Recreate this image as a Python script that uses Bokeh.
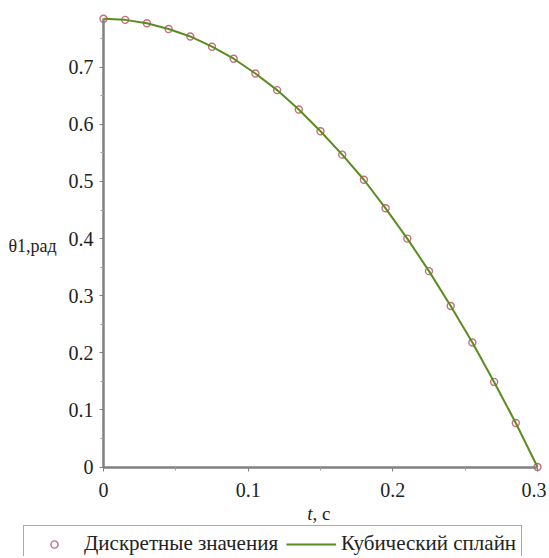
from bokeh.plotting import figure
from bokeh.models import Range1d, FixedTicker, Legend, LegendItem, Label, LinearAxis
from bokeh.embed import file_html
from bokeh.resources import INLINE

# data
t_values = [0.0, 0.015, 0.03, 0.045, 0.06, 0.075, 0.09, 0.105, 0.12, 0.135, 0.15,
            0.165, 0.18, 0.195, 0.21, 0.225, 0.24, 0.255, 0.27, 0.285, 0.3]
theta_values = [0.785, 0.783, 0.777, 0.767, 0.754, 0.736, 0.715, 0.689, 0.660, 0.626, 0.588,
                0.547, 0.503, 0.453, 0.400, 0.343, 0.282, 0.218, 0.149, 0.077, 0.0]
x_ticks = [0, 0.1, 0.2, 0.3]
x_tick_labels = ["0", "0.1", "0.2", "0.3"]
x_minor = [0.05, 0.15, 0.25]
y_ticks = [0, 0.1, 0.2, 0.3, 0.4, 0.5, 0.6, 0.7]
y_tick_labels = ["0", "0.1", "0.2", "0.3", "0.4", "0.5", "0.6", "0.7"]
y_minor = [0.05, 0.15, 0.25, 0.35, 0.45, 0.55, 0.65, 0.75]
x_min, x_max = 0.0, 0.3
y_min, y_max = 0.0, 0.7854

FONT = "Liberation Serif"
AX = "#808080"
TXT = "#222222"

W, H = 546, 556
LEFT, RIGHT, TOP, BOTTOM = 103, 9, 18, 89.5     # pixel space around the axes box
sx = (W - LEFT - RIGHT) / (x_max - x_min)
sy = (H - TOP - BOTTOM) / (y_max - y_min)

p = figure(width=W, height=H, output_backend="svg", toolbar_location=None,
           x_range=Range1d(x_min - LEFT / sx, x_max + RIGHT / sx),
           y_range=Range1d(y_min - BOTTOM / sy, y_max + TOP / sy),
           min_border=0, x_axis_location=None, y_axis_location=None)
p.outline_line_color = None
p.xgrid.visible = False
p.ygrid.visible = False
p.background_fill_color = "white"
p.border_fill_color = "white"

xax = LinearAxis(fixed_location=y_min, bounds=(x_min, x_max))
yax = LinearAxis(fixed_location=x_min, bounds=(y_min, y_max))
p.add_layout(xax, "below")
p.add_layout(yax, "left")

for ax, ticks, minor, labels in ((xax, x_ticks, x_minor, x_tick_labels),
                                 (yax, y_ticks, y_minor, y_tick_labels)):
    ax.ticker = FixedTicker(ticks=ticks, minor_ticks=minor)
    ax.major_label_overrides = {t: l for t, l in zip(ticks, labels)}
    ax.axis_line_color = AX
    ax.axis_line_width = 2.5
    ax.major_tick_line_color = AX
    ax.minor_tick_line_color = "#a0a0a0"
    ax.major_tick_out = 4
    ax.major_tick_in = 0
    ax.minor_tick_out = 3
    ax.minor_tick_in = 0
    ax.major_label_text_font = FONT
    ax.major_label_text_font_size = "20px"
    ax.major_label_text_color = TXT

xax.major_label_standoff = 12
yax.major_label_standoff = 6

r_pts = p.scatter(t_values, theta_values, marker="circle", size=7, fill_color=None,
                  line_color="#b8485e", line_alpha=0.8, line_width=1.4)
r_line = p.line(t_values, theta_values, line_color="#5b8c1f", line_width=2)

# axis titles
ylab = Label(x=x_min - (LEFT - 8) / sx, y=(y_min + y_max) / 2 - 3 / sy, text="θ1,рад",
             text_font=FONT, text_font_size="18px", text_align="left",
             text_baseline="middle", text_color=TXT)
xlab_t = Label(x=(x_min + x_max) / 2, y=y_min - 46 / sy, text="t", text_font=FONT,
               text_font_style="italic", text_font_size="19px", text_align="right",
               text_baseline="middle", x_offset=-8, text_color=TXT)
xlab_c = Label(x=(x_min + x_max) / 2, y=y_min - 46 / sy, text=", c", text_font=FONT,
               text_font_size="19px", text_align="left", text_baseline="middle",
               x_offset=-8, text_color=TXT)
p.add_layout(ylab)
p.add_layout(xlab_t)
p.add_layout(xlab_c)

legend = Legend(items=[LegendItem(label="Дискретные значения", renderers=[r_pts]),
                       LegendItem(label="Кубический сплайн", renderers=[r_line])],
                orientation="horizontal", location=(23, -6),
                label_text_font=FONT, label_text_font_size="21px", label_text_color=TXT,
                label_height=18, glyph_height=18, glyph_width=50, label_standoff=5,
                spacing=8, padding=5, margin=0,
                border_line_color="#555555", border_line_width=1.5,
                background_fill_color="white", background_fill_alpha=1.0)
p.add_layout(legend, "center")

open("out.html", "w").write(file_html(p, INLINE))
